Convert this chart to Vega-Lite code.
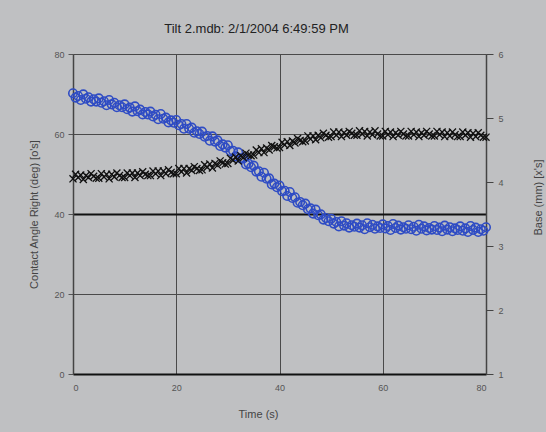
{
  "$schema": "https://vega.github.io/schema/vega-lite/v6.json",
  "width": 413,
  "height": 320,
  "autosize": {"type": "none"},
  "padding": {"left": 73, "top": 54, "right": 60, "bottom": 58},
  "background": "#bfc0c2",
  "config": {
    "view": {"stroke": null},
    "font": "Liberation Sans",
    "axis": {"labelFont": "Liberation Sans", "titleFont": "Liberation Sans", "labelColor": "#555", "titleColor": "#444", "titleFontWeight": "normal", "labelFontSize": 9, "titleFontSize": 11}
  },
  "title": {"text": "Tilt 2.mdb: 2/1/2004 6:49:59 PM", "fontSize": 13, "fontWeight": "normal", "color": "#222", "font": "Liberation Sans", "dx": -23, "offset": 4, "baseline": "alphabetic"},
  "data": {"values": [
{"t":0,"a":70.2,"b":4.05},{"t":0.5,"a":69.1,"b":4.12},{"t":1,"a":69.5,"b":4.07},{"t":1.5,"a":68.5,"b":4.11},{"t":2,"a":69.9,"b":4.04},{"t":2.5,"a":68.8,"b":4.1},{"t":3,"a":69.2,"b":4.07},{"t":3.5,"a":68.1,"b":4.13},{"t":4,"a":68.7,"b":4.09},{"t":4.5,"a":68.1,"b":4.06},
{"t":5,"a":68.9,"b":4.06},{"t":5.5,"a":67.8,"b":4.13},{"t":6,"a":68.2,"b":4.08},{"t":6.5,"a":67.2,"b":4.12},{"t":7,"a":68.5,"b":4.05},{"t":7.5,"a":67.4,"b":4.12},{"t":8,"a":67.8,"b":4.08},{"t":8.5,"a":66.7,"b":4.14},{"t":9,"a":67.2,"b":4.1},{"t":9.5,"a":66.7,"b":4.07},
{"t":10,"a":67.4,"b":4.07},{"t":10.5,"a":66.2,"b":4.14},{"t":11,"a":66.6,"b":4.1},{"t":11.5,"a":65.6,"b":4.14},{"t":12,"a":66.9,"b":4.07},{"t":12.5,"a":65.7,"b":4.14},{"t":13,"a":66.1,"b":4.1},{"t":13.5,"a":64.9,"b":4.16},{"t":14,"a":65.5,"b":4.12},{"t":14.5,"a":64.9,"b":4.1},
{"t":15,"a":65.6,"b":4.1},{"t":15.5,"a":64.4,"b":4.17},{"t":16,"a":64.8,"b":4.13},{"t":16.5,"a":63.7,"b":4.17},{"t":17,"a":65.0,"b":4.1},{"t":17.5,"a":63.8,"b":4.17},{"t":18,"a":64.1,"b":4.13},{"t":18.5,"a":62.9,"b":4.19},{"t":19,"a":63.4,"b":4.15},{"t":19.5,"a":62.8,"b":4.13},
{"t":20,"a":63.5,"b":4.13},{"t":20.5,"a":62.2,"b":4.21},{"t":21,"a":62.5,"b":4.16},{"t":21.5,"a":61.3,"b":4.21},{"t":22,"a":62.5,"b":4.14},{"t":22.5,"a":61.3,"b":4.21},{"t":23,"a":61.6,"b":4.18},{"t":23.5,"a":60.3,"b":4.24},{"t":24,"a":60.7,"b":4.21},{"t":24.5,"a":60.0,"b":4.18},
{"t":25,"a":60.6,"b":4.19},{"t":25.5,"a":59.3,"b":4.27},{"t":26,"a":59.5,"b":4.23},{"t":26.5,"a":58.3,"b":4.28},{"t":27,"a":59.4,"b":4.22},{"t":27.5,"a":58.1,"b":4.29},{"t":28,"a":58.4,"b":4.26},{"t":28.5,"a":57.0,"b":4.33},{"t":29,"a":57.4,"b":4.30},{"t":29.5,"a":56.6,"b":4.28},
{"t":30,"a":57.2,"b":4.29},{"t":30.5,"a":55.7,"b":4.37},{"t":31,"a":55.8,"b":4.34},{"t":31.5,"a":54.4,"b":4.39},{"t":32,"a":55.4,"b":4.33},{"t":32.5,"a":53.9,"b":4.41},{"t":33,"a":53.9,"b":4.38},{"t":33.5,"a":52.4,"b":4.45},{"t":34,"a":52.6,"b":4.42},{"t":34.5,"a":51.7,"b":4.41},
{"t":35,"a":52.1,"b":4.42},{"t":35.5,"a":50.6,"b":4.5},{"t":36,"a":50.7,"b":4.46},{"t":36.5,"a":49.3,"b":4.52},{"t":37,"a":50.3,"b":4.46},{"t":37.5,"a":48.8,"b":4.53},{"t":38,"a":48.9,"b":4.5},{"t":38.5,"a":47.4,"b":4.57},{"t":39,"a":47.6,"b":4.55},{"t":39.5,"a":46.7,"b":4.53},
{"t":40,"a":47.1,"b":4.54},{"t":40.5,"a":45.7,"b":4.62},{"t":41,"a":45.8,"b":4.58},{"t":41.5,"a":44.5,"b":4.63},{"t":42,"a":45.5,"b":4.57},{"t":42.5,"a":44.0,"b":4.64},{"t":43,"a":44.2,"b":4.61},{"t":43.5,"a":42.8,"b":4.68},{"t":44,"a":43.0,"b":4.65},{"t":44.5,"a":42.2,"b":4.63},
{"t":45,"a":42.6,"b":4.64},{"t":45.5,"a":41.2,"b":4.72},{"t":46,"a":41.4,"b":4.67},{"t":46.5,"a":40.1,"b":4.72},{"t":47,"a":41.1,"b":4.66},{"t":47.5,"a":39.7,"b":4.73},{"t":48,"a":39.9,"b":4.69},{"t":48.5,"a":38.6,"b":4.76},{"t":49,"a":39.0,"b":4.73},{"t":49.5,"a":38.2,"b":4.7},
{"t":50,"a":38.8,"b":4.71},{"t":50.5,"a":37.6,"b":4.78},{"t":51,"a":38.0,"b":4.73},{"t":51.5,"a":36.9,"b":4.78},{"t":52,"a":38.2,"b":4.71},{"t":52.5,"a":37.1,"b":4.77},{"t":53,"a":37.7,"b":4.73},{"t":53.5,"a":36.6,"b":4.79},{"t":54,"a":37.2,"b":4.76},{"t":54.5,"a":36.8,"b":4.73},
{"t":55,"a":37.6,"b":4.73},{"t":55.5,"a":36.6,"b":4.8},{"t":56,"a":37.2,"b":4.75},{"t":56.5,"a":36.2,"b":4.79},{"t":57,"a":37.7,"b":4.72},{"t":57.5,"a":36.7,"b":4.78},{"t":58,"a":37.3,"b":4.74},{"t":58.5,"a":36.3,"b":4.8},{"t":59,"a":36.9,"b":4.75},{"t":59.5,"a":36.5,"b":4.72},
{"t":60,"a":37.4,"b":4.72},{"t":60.5,"a":36.4,"b":4.79},{"t":61,"a":37.0,"b":4.74},{"t":61.5,"a":36.0,"b":4.78},{"t":62,"a":37.5,"b":4.71},{"t":62.5,"a":36.5,"b":4.77},{"t":63,"a":37.1,"b":4.73},{"t":63.5,"a":36.1,"b":4.79},{"t":64,"a":36.7,"b":4.75},{"t":64.5,"a":36.3,"b":4.72},
{"t":65,"a":37.2,"b":4.72},{"t":65.5,"a":36.2,"b":4.79},{"t":66,"a":36.8,"b":4.74},{"t":66.5,"a":35.8,"b":4.78},{"t":67,"a":37.3,"b":4.71},{"t":67.5,"a":36.3,"b":4.77},{"t":68,"a":36.9,"b":4.73},{"t":68.5,"a":35.9,"b":4.79},{"t":69,"a":36.5,"b":4.75},{"t":69.5,"a":36.1,"b":4.72},
{"t":70,"a":37.0,"b":4.72},{"t":70.5,"a":36.0,"b":4.79},{"t":71,"a":36.6,"b":4.74},{"t":71.5,"a":35.7,"b":4.78},{"t":72,"a":37.1,"b":4.71},{"t":72.5,"a":36.1,"b":4.77},{"t":73,"a":36.7,"b":4.72},{"t":73.5,"a":35.7,"b":4.78},{"t":74,"a":36.4,"b":4.74},{"t":74.5,"a":36.0,"b":4.71},
{"t":75,"a":36.9,"b":4.71},{"t":75.5,"a":35.8,"b":4.78},{"t":76,"a":36.4,"b":4.73},{"t":76.5,"a":35.5,"b":4.77},{"t":77,"a":37.0,"b":4.7},{"t":77.5,"a":36.0,"b":4.76},{"t":78,"a":36.6,"b":4.71},{"t":78.5,"a":35.5,"b":4.77},{"t":79,"a":36.2,"b":4.73},{"t":79.5,"a":35.8,"b":4.7},
{"t":80,"a":36.7,"b":4.7}
  ]},
  "encoding": {
    "x": {"field": "t", "type": "quantitative", "scale": {"domain": [0, 80], "nice": false, "zero": false},
      "axis": {"title": "Time (s)", "values": [0, 20, 40, 60, 80], "grid": true, "gridColor": "#4a4a4a", "gridWidth": 1, "gridOpacity": 1, "tickSize": 0, "labelPadding": 9, "domainColor": "#111", "domainWidth": 2,
        "titleX": 185, "titleY": 43, "titleBaseline": "alphabetic", "titleAlign": "center"}}
  },
  "layer": [
    {
      "mark": {"type": "point", "shape": "circle", "filled": false, "color": "#2f4cc4", "size": 72, "strokeWidth": 1.6, "opacity": 1},
      "encoding": {
        "y": {"field": "a", "type": "quantitative", "scale": {"domain": [0, 80], "nice": false, "zero": false},
          "axis": {"title": "Contact Angle Right (deg) [o's]", "values": [0, 20, 40, 60, 80], "grid": true,
            "gridColor": {"condition": {"test": "datum.value === 40", "value": "#111"}, "value": "#4a4a4a"},
            "gridWidth": {"condition": {"test": "datum.value === 40", "value": 2}, "value": 1},
            "gridOpacity": 1, "tickSize": 5, "tickColor": "#555", "labelPadding": 4, "domainColor": "#444", "domainWidth": 1.5,
            "titleX": -39, "titleY": 160, "titleAngle": 270, "titleAlign": "center", "titleBaseline": "middle"}}
      }
    },
    {
      "mark": {"type": "point", "shape": "M-1,-1L1,1M-1,1L1,-1", "filled": false, "color": "#111", "size": 50, "strokeWidth": 1.3, "opacity": 1},
      "encoding": {
        "y": {"field": "b", "type": "quantitative", "scale": {"domain": [1, 6], "nice": false, "zero": false},
          "axis": {"orient": "right", "title": "Base (mm) [x's]", "values": [1, 2, 3, 4, 5, 6], "grid": false, "tickSize": 7, "tickColor": "#444", "labelPadding": 5, "domainColor": "#444", "domainWidth": 1.5,
            "titleX": 52, "titleY": 143, "titleAngle": 270, "titleAlign": "center", "titleBaseline": "middle"}}
      }
    }
  ],
  "resolve": {"scale": {"y": "independent"}}
}
